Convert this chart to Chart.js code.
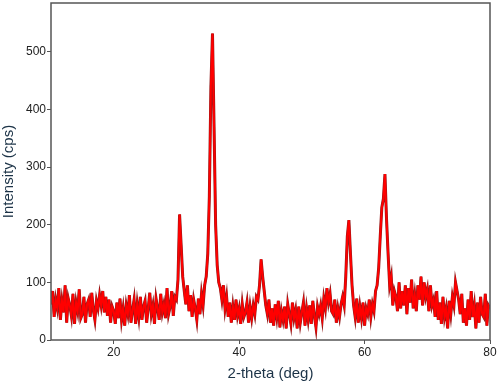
<!DOCTYPE html>
<html>
<head>
<meta charset="utf-8">
<script src="https://cdn.jsdelivr.net/npm/chart.js@4"></script>
<style>
  html, body { margin: 0; padding: 0; background: #fff; }
  #wrap { width: 498px; height: 383px; }
</style>
</head>
<body>
<div id="wrap"><canvas id="xrdChart" width="498" height="383"></canvas></div>
<script>
// XRD scan: 2-theta 10..80 deg, step 0.25
const thetaStart = 10;
const thetaStep = 0.25;

// counts, 4 points per degree
const counts = [
  62, 85, 40, 70,     // 10
  55, 90, 35, 68,     // 11
  48, 95, 30, 72,     // 12
  60, 42, 80, 28,     // 13
  65, 50, 88, 38,     // 14
  45, 75, 30, 62,     // 15
  70, 40, 82, 52,     // 16
  35, 68, 55, 78,     // 17
  60, 85, 48, 75,     // 18
  42, 70, 30, 58,     // 19
  50, 28, 65, 38,     // 20
  72, 35, 55, 25,     // 21
  60, 45, 78, 30,     // 22
  52, 70, 28, 62,     // 23
  40, 75, 35, 58,     // 24
  68, 30, 55, 82,     // 25
  45, 60, 28, 72,     // 26
  55, 35, 80, 48,     // 27
  62, 38, 90, 45,     // 28
  58, 85, 42, 75,     // 29
  70, 105, 218, 165,  // 30
  110, 85, 62, 95,    // 31
  50, 78, 40, 70,     // 32
  55, 35, 72, 45,     // 33
  80, 60, 95, 110,    // 34
  150, 250, 440, 532, // 35
  370, 200, 130, 100, // 36
  90, 70, 95, 55,     // 37
  75, 40, 65, 30,     // 38
  58, 35, 70, 42,     // 39
  55, 28, 62, 40,     // 40
  48, 65, 30, 58,     // 41
  38, 60, 45, 75,     // 42
  70, 95, 140, 110,   // 43
  85, 60, 45, 70,     // 44
  30, 55, 25, 62,     // 45
  40, 68, 22, 50,     // 46
  35, 58, 20, 62,     // 47
  45, 28, 65, 38,     // 48
  52, 20, 58, 30,     // 49
  48, 65, 25, 55,     // 50
  35, 60, 28, 68,     // 51
  42, 22, 58, 45,     // 52
  60, 38, 72, 55,     // 53
  90, 65, 80, 50,     // 54
  45, 70, 30, 55,     // 55
  40, 62, 75, 60,     // 56
  110, 180, 208, 150, // 57
  95, 60, 40, 72,     // 58
  30, 58, 38, 65,     // 59
  25, 55, 45, 70,     // 60
  40, 62, 50, 85,     // 61
  95, 125, 180, 230,  // 62
  245, 288, 210, 150, // 63
  95, 110, 60, 85,    // 64
  75, 50, 100, 55,    // 65
  85, 60, 95, 45,     // 66
  90, 65, 105, 55,    // 67
  78, 50, 95, 70,     // 68
  110, 60, 100, 75,   // 69
  88, 50, 95, 60,     // 70
  70, 40, 85, 35,     // 71
  65, 28, 75, 40,     // 72
  55, 20, 68, 45,     // 73
  75, 60, 100, 85,    // 74
  70, 45, 80, 30,     // 75
  55, 25, 70, 35,     // 76
  85, 40, 60, 20,     // 77
  65, 30, 75, 45,     // 78
  40, 80, 25, 60,     // 79
  55                  // 80
];

const xTicks = [20, 40, 60, 80];
const yTicks = [0, 100, 200, 300, 400, 500];

const points = counts.map((c, i) => ({ x: thetaStart + i * thetaStep, y: c }));

const frameColor = '#555555';
const textColor = '#222222';
const titleColor = '#1c3347';

// box around the plot area
const frameBox = {
  id: 'frameBox',
  afterDraw(chart) {
    const { ctx, chartArea } = chart;
    ctx.save();
    ctx.strokeStyle = frameColor;
    ctx.lineWidth = 1.5;
    ctx.strokeRect(chartArea.left, chartArea.top, chartArea.right - chartArea.left, chartArea.bottom - chartArea.top);
    ctx.restore();
  }
};

const ctx = document.getElementById('xrdChart').getContext('2d');
new Chart(ctx, {
  type: 'line',
  data: {
    datasets: [{
      // dark edge under the red trace
      data: points,
      borderColor: '#8e1b1b',
      borderWidth: 3,
      pointRadius: 0,
      tension: 0,
      order: 2
    }, {
      data: points,
      borderColor: '#ff0000',
      borderWidth: 2,
      pointRadius: 0,
      tension: 0,
      order: 1
    }]
  },
  options: {
    responsive: false,
    animation: false,
    layout: { padding: { top: 3, right: 8, left: 0, bottom: 0 } },
    plugins: {
      legend: { display: false },
      tooltip: { enabled: false }
    },
    scales: {
      x: {
        type: 'linear',
        min: 10,
        max: 80,
        afterBuildTicks: axis => { axis.ticks = xTicks.map(v => ({ value: v })); },
        afterFit: scale => { scale.height = 43; scale.paddingLeft = 0; scale.paddingRight = 0; },
        grid: { display: true, drawOnChartArea: false, drawTicks: true, tickLength: 4, color: frameColor },
        border: { display: false },
        ticks: { color: textColor, font: { family: 'Liberation Sans', size: 12 }, padding: 1, maxRotation: 0 },
        title: {
          display: true,
          text: '2-theta (deg)',
          color: titleColor,
          font: { family: 'Liberation Sans', size: 15 },
          padding: { top: 2, bottom: 0 }
        }
      },
      y: {
        min: 0,
        max: 585,
        afterBuildTicks: axis => { axis.ticks = yTicks.map(v => ({ value: v })); },
        afterFit: scale => { scale.width = 51; scale.paddingTop = 0; scale.paddingBottom = 0; },
        grid: { display: true, drawOnChartArea: false, drawTicks: true, tickLength: 4, color: frameColor },
        border: { display: false },
        ticks: { color: textColor, font: { family: 'Liberation Sans', size: 12 }, padding: 1 },
        title: {
          display: true,
          text: 'Intensity (cps)',
          color: titleColor,
          font: { family: 'Liberation Sans', size: 15 },
          padding: { top: 0, bottom: 0 }
        }
      }
    }
  },
  plugins: [frameBox]
});
</script>
</body>
</html>
